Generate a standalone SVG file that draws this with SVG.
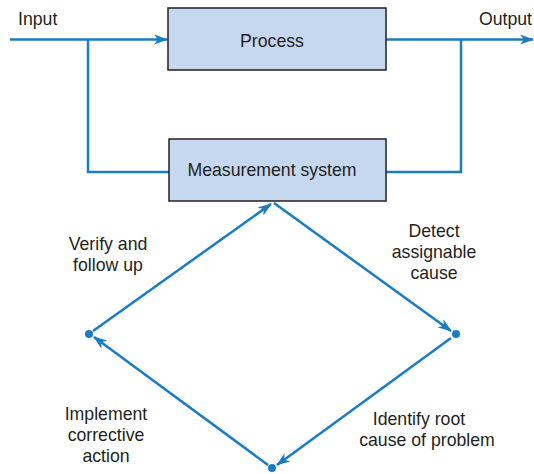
<svg xmlns="http://www.w3.org/2000/svg" width="534" height="474" viewBox="0 0 534 474">
<defs>
<marker id="ah" markerWidth="14" markerHeight="10" viewBox="0 0 14 10" refX="13" refY="5" orient="auto" markerUnits="userSpaceOnUse">
<path d="M0,0 L14,5 L0,10 L4,5 Z" fill="#1a7cc4"/>
</marker>
</defs>
<style>
.box{fill:#c6d8ef;stroke:#231f20;stroke-width:1.5}
.t{font-family:"Liberation Sans",Arial,sans-serif;font-size:17.7px;fill:#231f20}
.c{fill:none;stroke:#1a7cc4;stroke-width:2.5}
.d{fill:#1a7cc4}
</style>
<rect width="534" height="474" fill="#ffffff"/>
<g id="connectors">
<path class="c" d="M10,39.5 H167" marker-end="url(#ah)"/>
<path class="c" d="M386,39.5 H533" marker-end="url(#ah)"/>
<path class="c" d="M88,39.5 V172 H169"/>
<path class="c" d="M461,39.5 V172 H386"/>
<path class="c" d="M274,203 L451,331" marker-end="url(#ah)"/>
<path class="c" d="M451,338 L277,465" marker-end="url(#ah)"/>
<path class="c" d="M268,465 L94,337" marker-end="url(#ah)"/>
<path class="c" d="M93,331 L271,204" marker-end="url(#ah)"/>
<circle class="d" cx="456" cy="334" r="4"/>
<circle class="d" cx="89" cy="334" r="4"/>
<circle class="d" cx="272" cy="468" r="4"/>
</g>
<g id="process">
<rect class="box" x="168" y="8" width="218" height="62"/>
<text class="t" x="272" y="47" text-anchor="middle">Process</text>
</g>
<g id="measurement">
<rect class="box" x="169" y="139" width="217" height="62"/>
<text class="t" x="272" y="176" text-anchor="middle">Measurement system</text>
</g>
<g id="labels">
<text class="t" x="18" y="25">Input</text>
<text class="t" x="532" y="25" text-anchor="end">Output</text>
<text class="t" text-anchor="middle"><tspan x="108" y="250">Verify and</tspan><tspan x="108" y="271">follow up</tspan></text>
<text class="t" text-anchor="middle"><tspan x="434" y="237">Detect</tspan><tspan x="434" y="258">assignable</tspan><tspan x="434" y="279">cause</tspan></text>
<text class="t" text-anchor="middle"><tspan x="106" y="420">Implement</tspan><tspan x="106" y="441">corrective</tspan><tspan x="106" y="462">action</tspan></text>
<text class="t" text-anchor="middle"><tspan x="419" y="425">Identify root</tspan><tspan x="427" y="446">cause of problem</tspan></text>
</g>
</svg>
